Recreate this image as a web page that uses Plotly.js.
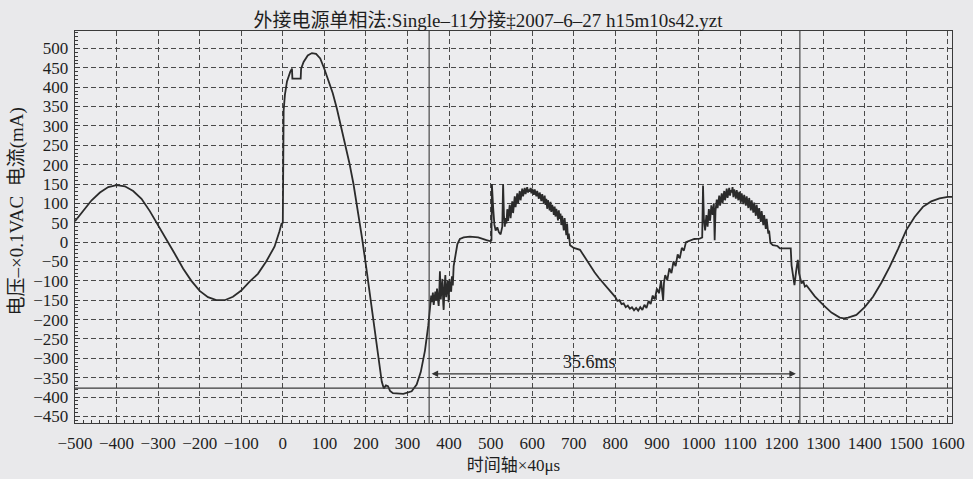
<!DOCTYPE html>
<html>
<head>
<meta charset="utf-8">
<script src="https://cdn.plot.ly/plotly-3.0.1.min.js"></script>
<style>
html,body{margin:0;padding:0;background:#e9e9eb;}
#chart{width:973px;height:479px;}
</style>
</head>
<body>
<div id="chart"></div>
<script>
// ---- data (time axis x40us, value) ----
const tSineA = [-500,-480,-460,-440,-420,-400,-380,-360,-340,-320,-300,-280,-260,-240,-220,-200,-180,-160,-140,-120,-100,-80,-60,-40,-20,-8,-3];
const vSineA = [54,82,108,128,142,147,144,132,112,80,44,8,-30,-68,-100,-126,-142,-150,-150,-141,-125,-102,-82,-50,-12,28,48];

const tPulse = [0,1,2,5,10,18,22,23,43,44,50,60,70,80,90,100,110,120,130,140,150,160,170,180,190,200,210,220,230,238,243,248,253,258,265,290,310,322,332,342,350,355];
const vPulse = [50,200,340,380,415,440,448,422,422,448,465,482,488,486,474,447,418,385,345,300,252,205,150,85,15,-60,-140,-225,-305,-360,-378,-370,-372,-384,-390,-392,-385,-368,-335,-280,-215,-170];

const tNoiseA = [357,359,361,363,365,367,369,371,373,375,377,378,380,382,384,386,387,389,391,393,395,397,399,401,403,405,407,409,411,415,420,426,435,450,470,490,500];
const vNoiseA = [-138,-155,-130,-162,-140,-128,-150,-120,-146,-165,-110,-75,-148,-128,-95,-160,-175,-118,-85,-142,-120,-100,-155,-95,-118,-128,-88,-112,-62,-35,-5,8,12,14,12,5,2];

const tHalf1 = [502,503,506,509,512,516,520,524,528,530,532,534,536,538,540,542,544,546,548,550,552,554,556,558,560,562,564,566,568,570,572,574,576,578,580,582,584,586,588,590,592,594,596,598,600,602,604,606,608,610,612,614,616,618,620,622,624,626,628,630,632,634,636,638,640,642,644,646,648,650,652,654,656,658,660,662,664,666,668,670,672,674,676,678,680,682,684,686,688,691,700,715];
const vHalf1 = [5,150,90,45,30,38,25,20,40,150,70,40,62,48,85,55,78,96,62,88,105,75,98,118,90,110,126,100,118,132,108,125,138,118,130,140,124,134,142,128,136,130,140,126,138,131,122,136,126,118,132,120,112,128,116,106,124,110,100,120,96,112,86,108,94,82,104,78,96,88,70,92,66,86,74,56,82,60,74,44,68,52,30,62,40,18,48,8,22,-8,-15,-20];

const tHalf2 = [720,730,740,750,760,770,780,790,800,805,810,815,820,825,830,835,840,845,850,855,860,865,870,875,880,885,890,895,900,905,910,915,917,920,925,930,935,940,945,950,955,960,965,970,980,990,1003];
const vHalf2 = [-28,-45,-60,-78,-92,-104,-118,-130,-142,-152,-150,-160,-158,-168,-164,-172,-168,-176,-170,-177,-168,-175,-162,-170,-152,-160,-138,-148,-120,-132,-100,-150,-105,-85,-98,-68,-80,-50,-62,-32,-42,-15,-22,0,5,8,9];

const tHalf3 = [1005,1009,1011,1013,1016,1019,1022,1025,1028,1031,1034,1037,1039,1041,1044,1046,1048,1050,1052,1054,1056,1058,1060,1062,1064,1066,1068,1070,1072,1074,1076,1078,1080,1082,1084,1086,1088,1090,1092,1094,1096,1098,1100,1102,1104,1106,1108,1110,1112,1114,1116,1118,1120,1122,1124,1126,1128,1130,1132,1134,1136,1138,1140,1142,1144,1146,1148,1150,1152,1154,1156,1158,1160,1162,1164,1166,1168,1170,1173,1179,1190,1196,1222,1224,1231,1235,1239,1242,1248,1252,1256,1260,1268];
const vHalf3 = [10,12,146,60,30,70,40,85,55,95,70,100,5,80,110,88,104,120,94,112,126,100,118,132,108,125,138,114,130,140,120,134,128,142,116,136,126,112,134,120,108,130,116,102,126,112,98,122,106,94,118,100,88,114,96,82,108,90,76,102,84,68,96,78,60,88,70,52,80,62,44,70,54,34,60,40,22,30,-2,-8,-10,-16,-16,-60,-111,-75,-46,-80,-107,-100,-115,-112,-124];

const tSineB = [1280,1300,1320,1340,1350,1360,1380,1400,1420,1440,1460,1480,1500,1520,1540,1560,1580,1600,1610];
const vSineB = [-140,-162,-182,-195,-197,-195,-188,-168,-141,-105,-64,-18,31,65,91,105,113,117,117];

const xTickVals = [-500,-400,-300,-200,-100,0,100,200,300,400,500,600,700,800,900,1000,1100,1200,1300,1400,1500,1600];
const yTickVals = [-450,-400,-350,-300,-250,-200,-150,-100,-50,0,50,100,150,200,250,300,350,400,450,500];

const cursorA = 352, cursorB = 1244, levelLine = -377, arrowY = -340;
const measureLabel = '35.6ms';

const chartTitle = '外接电源单相法:Single–11分接‡2007–6–27 h15m10s42.yzt';
const xTitle = '时间轴×40μs';
const yTitle = '电压–×0.1VAC  电流(mA)';

// ---- build ----
const t = [].concat(tSineA, tPulse, tNoiseA, tHalf1, tHalf2, tHalf3, tSineB);
const v = [].concat(vSineA, vPulse, vNoiseA, vHalf1, vHalf2, vHalf3, vSineB);

const serif = 'Liberation Serif, Noto Sans CJK SC, serif';
const ink = '#2b2b2b';

const trace = {
  x: t, y: v, type: 'scatter', mode: 'lines',
  line: {color: ink, width: 1.8},
  hoverinfo: 'skip'
};

const axisCommon = {
  showline: true, mirror: true, linecolor: '#3a3a3a', linewidth: 1.3,
  showgrid: true, gridcolor: '#4a4a4a', gridwidth: 1, griddash: '5px,3px',
  zeroline: false, ticks: 'inside', ticklen: 5, tickcolor: '#3a3a3a',
  tickfont: {family: serif, size: 17, color: '#1e1e1e'}
};

const layout = {
  width: 973, height: 479,
  font: {family: serif, size: 17, color: '#1e1e1e'},
  paper_bgcolor: '#e9e9eb', plot_bgcolor: '#ececee',
  margin: {l: 75, r: 21, t: 31, b: 56},
  showlegend: false,
  title: {text: chartTitle, x: 0.471, xanchor: 'center', xref: 'paper', y: 0.972, yref: 'container',
          font: {family: serif, size: 19, color: '#1e1e1e'}},
  xaxis: Object.assign({}, axisCommon, {
    range: [-500, 1610], tickmode: 'array', tickvals: xTickVals,
    ticklabelstandoff: 4,
    minor: {dtick: 20, ticks: 'inside', ticklen: 3, tickcolor: '#3a3a3a', showgrid: false},
    title: {text: xTitle, standoff: 7, font: {family: serif, size: 17, color: '#1e1e1e'}}
  }),
  yaxis: Object.assign({}, axisCommon, {
    range: [-467, 545], tickmode: 'array', tickvals: yTickVals,
    ticklabelstandoff: 2,
    minor: {dtick: 10, ticks: 'inside', ticklen: 3, tickcolor: '#3a3a3a', showgrid: false}
  }),
  shapes: [
    {type: 'line', xref: 'x', yref: 'paper', x0: cursorA, x1: cursorA, y0: 0, y1: 1, line: {color: '#3a3a3a', width: 1.1}},
    {type: 'line', xref: 'x', yref: 'paper', x0: cursorB, x1: cursorB, y0: 0, y1: 1, line: {color: '#3a3a3a', width: 1.1}},
    {type: 'line', xref: 'paper', yref: 'y', x0: 0, x1: 1, y0: levelLine, y1: levelLine, line: {color: '#3a3a3a', width: 1.1}}
  ],
  annotations: [
    {x: cursorA + 6, y: arrowY, ax: cursorB - 6, ay: arrowY, xref: 'x', yref: 'y', axref: 'x', ayref: 'y',
     showarrow: true, arrowhead: 2, startarrowhead: 2, arrowside: 'end+start', arrowsize: 1, arrowwidth: 1.3, arrowcolor: '#333', text: ''},
    {x: 739, y: -310, xref: 'x', yref: 'y', text: measureLabel, showarrow: false,
     font: {family: serif, size: 18, color: '#1e1e1e'}},
    {x: -0.066, y: 0.54, xref: 'paper', yref: 'paper', xanchor: 'center', yanchor: 'middle',
     text: yTitle, textangle: -90, showarrow: false,
     font: {family: serif, size: 19, color: '#1e1e1e'}}
  ]
};

Plotly.newPlot('chart', [trace], layout, {staticPlot: true, displayModeBar: false});
</script>
</body>
</html>
